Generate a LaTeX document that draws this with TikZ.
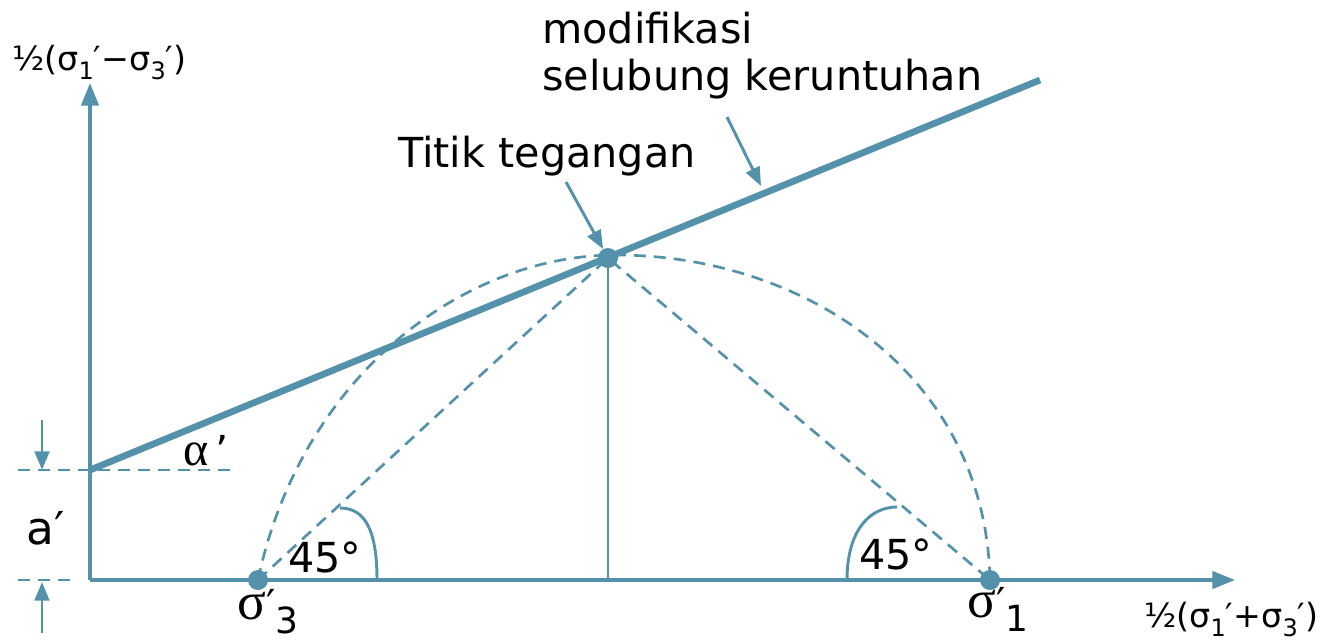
\documentclass[tikz,border=0pt]{standalone}
\usepackage{fontspec}
\setmainfont{DejaVu Sans}
\newfontfamily\serifgr{Liberation Serif}
\usetikzlibrary{arrows.meta}
\definecolor{lc}{RGB}{84,146,171}
\newcommand{\sub}[1]{\raisebox{-0.28em}{\fontsize{18}{18}\selectfont #1}}
\newcommand{\bigsub}[1]{\raisebox{-0.35em}{\fontsize{27}{27}\selectfont #1}}
\begin{document}
\begin{tikzpicture}[x=0.75pt,y=-0.75pt,
  axisline/.style={draw=lc, line width=2.5pt, -{Triangle[length=17pt,width=13pt]}},
  annarrow/.style={draw=lc, line width=2.2pt, -{Triangle[length=14pt,width=11pt]}},
  smallarrow/.style={draw=lc, line width=2.2pt, -{Triangle[length=14pt,width=11pt]}},
  envelope/.style={draw=lc, line width=5pt},
  dashline/.style={draw=lc, line width=2pt, dash pattern=on 9pt off 6pt},
  thinline/.style={draw=lc, line width=2.2pt},
  dot/.style={circle, fill=lc, inner sep=0pt, minimum size=15pt},
  lbl/.style={font=\fontsize{31}{36}\selectfont, inner sep=0pt, text=black},
  axlbl/.style={font=\fontsize{25}{28}\selectfont, inner sep=0pt, text=black}
]
\useasboundingbox (0,0) rectangle (1323,640);

% points
\coordinate (O) at (90,580);
\coordinate (A) at (90,470);
\coordinate (E) at (1040,80);
\coordinate (Ytip) at (90,83);
\coordinate (Xtip) at (1235,580);
\coordinate (Pfoot) at (608,580);
\coordinate (Top) at (616,255);

% axes
\draw[axisline] (O) -- (Ytip);
\draw[axisline] (O) -- (Xtip);

% dashed helper lines
\coordinate (hA1) at (18,470);
\coordinate (hA2) at (230,470);
\coordinate (hO1) at (18,580);
\coordinate (hO2) at (75,580);
\draw[dashline] (hA1) -- (hA2);
\draw[dashline] (hO1) -- (hO2);

% dots
\node[dot] (S3) at (258,580) {};
\node[dot] (S1) at (990,580) {};
\node[dot] (P) at (608,258) {};

% dashed arc and chords
\draw[dashline] (S3.center) .. controls (300,380) and (460,255) .. (Top)
  .. controls (800,255) and (985,370) .. (S1.center);
\draw[dashline] (S3.center) -- (P.center) -- (S1.center);

% vertical line
\draw[thinline] (P.center) -- (Pfoot);

% envelope
\draw[envelope] (A) -- (E);

% angle arcs
\draw[thinline] (377,580) .. controls (377,530) and (365,508) .. (340,508);
\draw[thinline] (847,580) .. controls (847,530) and (870,507) .. (897,507);

% a' arrows
\coordinate (d1) at (42,420);
\coordinate (d2) at (42,470);
\coordinate (u1) at (42,633);
\coordinate (u2) at (42,582);
\draw[smallarrow] (d1) -- (d2);
\draw[smallarrow] (u1) -- (u2);

% labels
\node[lbl, anchor=base west] (mod) at (542,43) {modifikasi};
\node[lbl, anchor=base west] (sel) at (542,90) {selubung keruntuhan};
\node[lbl, anchor=base west] (tt) at (398,167) {Titik tegangan};

\coordinate (tts) at (566,182);
\coordinate (sels) at (727,117);
\coordinate (selt) at (761,186);
\draw[annarrow] (tts) -- (P);
\draw[annarrow] (sels) -- (selt);

\node[lbl, anchor=base west] (alpha) at (183,465) {{\serifgr\fontsize{36}{36}\selectfont α}\,\symbol{39}};
\node[lbl, anchor=base west, font=\fontsize{34}{36}\selectfont] (aprime) at (26,544) {a′};
\node[lbl, anchor=base west, font=\fontsize{31}{36}\selectfont] (ang1) at (288,572) {45°};
\node[lbl, anchor=base west, font=\fontsize{31}{36}\selectfont] (ang2) at (859,569) {45°};

\node[lbl, anchor=base west] (s3) at (237,619) {{\serifgr\fontsize{40}{40}\selectfont σ}′\bigsub{3}};
\node[lbl, anchor=base west] (s1) at (967,617) {{\serifgr\fontsize{40}{40}\selectfont σ}′\bigsub{1}};

\node[axlbl, anchor=base west] (ylab) at (12,70) {½(σ\sub{1}′−σ\sub{3}′)};
\node[axlbl, anchor=base west] (xlab) at (1144,627) {½(σ\sub{1}′+σ\sub{3}′)};
\end{tikzpicture}
\end{document}
